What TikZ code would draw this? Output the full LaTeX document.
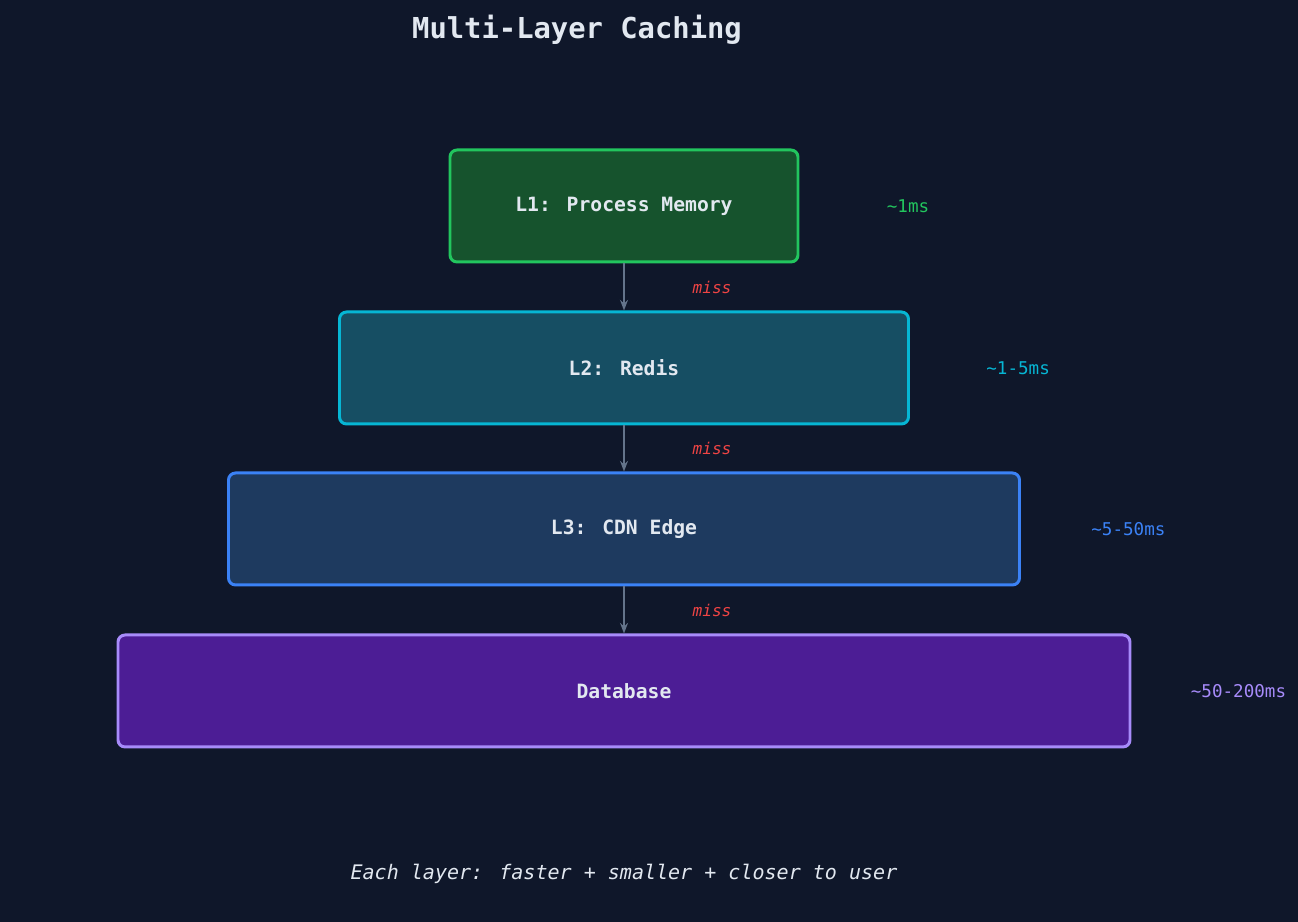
\documentclass[tikz,border=0pt]{standalone}
\usepackage{fontspec}
\setmainfont{DejaVu Sans Mono}
\setmonofont{DejaVu Sans Mono}
\usetikzlibrary{positioning,arrows.meta}
\definecolor{bgcol}{HTML}{0F172A}
\definecolor{txtcol}{HTML}{E2E8F0}
\definecolor{misscol}{HTML}{EF4444}
\definecolor{arrcol}{HTML}{64748B}
\definecolor{lonefill}{HTML}{16532D}
\definecolor{loneline}{HTML}{22C55E}
\definecolor{ltwofill}{HTML}{164E63}
\definecolor{ltwoline}{HTML}{06B6D4}
\definecolor{lthreefill}{HTML}{1E3A5F}
\definecolor{lthreeline}{HTML}{3B82F6}
\definecolor{dbfill}{HTML}{4C1D95}
\definecolor{dbline}{HTML}{A78BFA}
\tikzset{
    layer/.style = {
        draw,
        shape=rectangle,
        minimum height=1.12cm,
        line width=0.85pt,
        rounded corners=2pt,
        text=txtcol,
        font=\fontsize{5.6}{6}\selectfont\bfseries
    },
    latency/.style = {
        anchor=west,
        font=\fontsize{5}{6}\selectfont
    },
    miss/.style = {
        text=misscol,
        font=\fontsize{4.6}{5}\selectfont\itshape
    },
    >={Stealth[length=3pt]},
}
\begin{document}
\begin{tikzpicture}
    \fill[bgcol] (0,0) rectangle (12.98,9.22);
    \useasboundingbox (0,0) rectangle (12.98,9.22);

    \node[text=txtcol, font=\fontsize{8.2}{9}\selectfont\bfseries] (title) at (5.77,8.92) {Multi-Layer Caching};

    \node[layer, fill=lonefill, draw=loneline, minimum width=3.48cm] (lone) at (6.24,7.16) {L1: Process Memory};
    \node[layer, fill=ltwofill, draw=ltwoline, minimum width=5.69cm] (ltwo) at (6.24,5.54) {L2: Redis};
    \node[layer, fill=lthreefill, draw=lthreeline, minimum width=7.91cm] (lthree) at (6.24,3.93) {L3: CDN Edge};
    \node[layer, fill=dbfill, draw=dbline, minimum width=10.12cm] (db) at (6.24,2.31) {Database};

    \node[latency, text=loneline] (tone) at ([xshift=0.75cm]lone.east) {\textasciitilde1ms};
    \node[latency, text=ltwoline] (ttwo) at ([xshift=0.64cm]ltwo.east) {\textasciitilde1-5ms};
    \node[latency, text=lthreeline] (tthree) at ([xshift=0.58cm]lthree.east) {\textasciitilde5-50ms};
    \node[latency, text=dbline] (tdb) at ([xshift=0.47cm]db.east) {\textasciitilde50-200ms};

    \draw[->, arrcol, line width=0.85pt] (lone.south) -- (ltwo.north) node [miss, midway, xshift=0.88cm] {miss};
    \draw[->, arrcol, line width=0.85pt] (ltwo.south) -- (lthree.north) node [miss, midway, xshift=0.88cm] {miss};
    \draw[->, arrcol, line width=0.85pt] (lthree.south) -- (db.north) node [miss, midway, xshift=0.88cm] {miss};

    \node[text=txtcol, font=\fontsize{5.7}{6}\selectfont\itshape] (foot) at (6.24,0.48) {Each layer: faster + smaller + closer to user};
\end{tikzpicture}
\end{document}
